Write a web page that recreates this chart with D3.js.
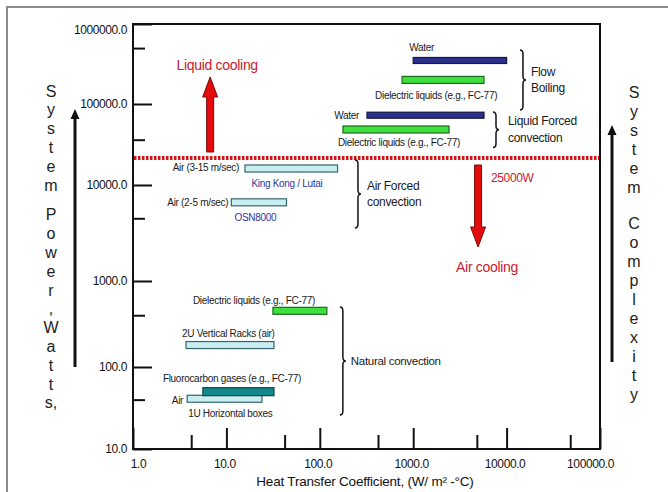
<!DOCTYPE html>
<html>
<head>
<meta charset="utf-8">
<script src="https://cdn.jsdelivr.net/npm/d3@7"></script>
<style>
  body { margin: 0; background: #fff; }
  svg { display: block; font-family: "Liberation Sans", Arial, sans-serif; }
</style>
</head>
<body>
<svg id="chart"></svg>
<script>
"use strict";

// axis ticks
const xTicks = [1, 10, 100, 1000, 10000, 100000];
const xMinorTicks = [4.2, 42, 420, 4800, 48000];
const yTicks = [10, 100, 1000, 10000, 100000, 1000000];
const yMinorTicks = [40, 400, 4500, 40000, 500000];

// bars: heat transfer coefficient range (W/m2-C) against system power (W)
const barLabels = [
    "Water", "Dielectric liquids (e.g., FC-77)",
    "Water", "Dielectric liquids (e.g., FC-77)",
    "Air (3-15 m/sec)", "Air (2-5 m/sec)",
    "Dielectric liquids (e.g., FC-77)", "2U Vertical Racks (air)",
    "Fluorocarbon gases (e.g., FC-77)", "Air"
];
const barNotes = ["", "", "", "", "King Kong / Lutai", "OSN8000", "", "", "", "1U Horizontal boxes"];
const barFrom = [1000, 760, 320, 177, 15.8, 11.3, 31.5, 3.7, 5.6, 3.8];
const barTo = [10000, 5730, 5730, 2420, 155, 44, 119, 32.3, 32.3, 24];
const barPower = [350000, 200000, 75000, 52000, 17500, 6600, 450, 180, 50, 41];
const barMedium = ["water", "dielectric", "water", "dielectric", "air", "air",
                   "dielectric", "air", "fluorocarbon", "air"];

// regime braces
const groupNames = [["Flow", "Boiling"], ["Liquid Forced", "convection"], ["Air Forced", "convection"], ["Natural convection"]];
const groupTop = [473000, 81500, 23400, 500];
const groupBottom = [85700, 32800, 3560, 26];
const groupAt = [13900, 7150, 238, 164];

const thresholdPower = 25000;
const thresholdLabel = "25000W";
const upArrowAt = 6.7;
const downArrowAt = 4950;

// ---- layout / style ----
const width = 668, height = 492;
const plotLeft = 133, plotRight = 600, plotTop = 24, plotBottom = 449;

const mediumStyle = {
    water:        { fill: "#2c3190", stroke: "#141640", h: 6 },
    dielectric:   { fill: "#3ee03e", stroke: "#1d6a1d", h: 7 },
    air:          { fill: "#c9eef1", stroke: "#35656b", h: 7 },
    fluorocarbon: { fill: "#14898b", stroke: "#0b4748", h: 8 }
};

// label placement relative to the bar start / bar centre line
const labelLayout = [
    { anchor: "start", dx: -4,  dy: -12.5 },
    { anchor: "start", dx: -27, dy: 15.5 },
    { anchor: "end",   dx: -8,  dy: 0.5 },
    { anchor: "start", dx: -5,  dy: 13 },
    { anchor: "end",   dx: -6,  dy: -1 },
    { anchor: "end",   dx: -3,  dy: 0 },
    { anchor: "start", dx: -80, dy: -10 },
    { anchor: "start", dx: -4,  dy: -12 },
    { anchor: "start", dx: -40, dy: -13 },
    { anchor: "end",   dx: -4,  dy: 1.5 }
];
const noteLayout = [null, null, null, null,
    { anchor: "middle", dx: 42, dy: 15, color: "#34349a" },
    { anchor: "middle", dx: 24, dy: 15, color: "#34349a" },
    null, null, null,
    { anchor: "start", dx: 1, dy: 14.5, color: "#222" }];

const svg = d3.select("#chart").attr("width", width).attr("height", height);
svg.append("rect").attr("width", width).attr("height", height).attr("fill", "#fff");

// picture frame
svg.append("rect")
    .attr("x", 7).attr("y", 7).attr("width", width + 20).attr("height", height + 20)
    .attr("fill", "none").attr("stroke", "#8c8c8c").attr("stroke-width", 2);

const x = d3.scaleLog().domain([1, 100000]).range([plotLeft, plotRight]);
// the printed axis is not evenly spaced, so it is calibrated piecewise
const y = d3.scaleLog()
    .domain([10, 100, 1000, 10000, thresholdPower, 100000, 1000000])
    .range([449, 367, 281, 185, 158, 104, 24]);

const fmt = d3.format(".1f");

// x axis
const gx = svg.append("g").attr("transform", `translate(0,${plotBottom})`)
    .call(d3.axisBottom(x).tickValues(xTicks).tickSize(-21).tickSizeOuter(0).tickPadding(10).tickFormat(fmt));
gx.append("g")
    .call(d3.axisBottom(x).tickValues(xMinorTicks).tickSize(-14).tickSizeOuter(0).tickFormat(""));
gx.selectAll(".domain").remove();
gx.selectAll("line").attr("stroke", "#111").attr("stroke-width", 2);
gx.selectAll("text").attr("font-size", 12).attr("fill", "#111").attr("letter-spacing", -0.4)
    .attr("font-family", "Liberation Sans, Arial, sans-serif")
    .attr("dx", d => d === 1 ? 5 : (d === 100000 ? -10 : -2));

// y axis
const gy = svg.append("g").attr("transform", `translate(${plotLeft},0)`)
    .call(d3.axisLeft(y).tickValues(yTicks).tickSize(-19).tickSizeOuter(0).tickPadding(6).tickFormat(fmt));
gy.append("g")
    .call(d3.axisLeft(y).tickValues(yMinorTicks).tickSize(-12).tickSizeOuter(0).tickFormat(""));
gy.selectAll(".domain").remove();
gy.selectAll("line").attr("stroke", "#111").attr("stroke-width", 2);
gy.selectAll("text").attr("font-size", 12).attr("fill", "#111").attr("letter-spacing", -0.4)
    .attr("font-family", "Liberation Sans, Arial, sans-serif")
    .attr("dy", d => d === 1000000 ? "0.75em" : "0.32em");

// plot frame
svg.append("rect")
    .attr("x", plotLeft).attr("y", plotTop).attr("width", plotRight - plotLeft).attr("height", plotBottom - plotTop)
    .attr("fill", "none").attr("stroke", "#111").attr("stroke-width", 2);

// x title
svg.append("text")
    .attr("x", 365).attr("y", 486)
    .attr("text-anchor", "middle").attr("font-size", 13.5).attr("fill", "#111")
    .attr("letter-spacing", -0.2)
    .text("Heat Transfer Coefficient, (W/ m² -°C)");

// threshold line
const ty = y(thresholdPower);
svg.append("line")
    .attr("x1", plotLeft + 1).attr("x2", plotRight - 1).attr("y1", ty).attr("y2", ty)
    .attr("stroke", "#d41414").attr("stroke-width", 4).attr("stroke-dasharray", "2.5 1.5");

// bars
const bars = d3.range(barLabels.length);
const barG = svg.append("g");
const barRects = barG.selectAll("rect").data(bars).join("rect")
    .attr("x", i => x(barFrom[i]))
    .attr("width", i => x(barTo[i]) - x(barFrom[i]))
    .attr("y", i => y(barPower[i]) - mediumStyle[barMedium[i]].h / 2)
    .attr("height", i => mediumStyle[barMedium[i]].h)
    .attr("fill", i => mediumStyle[barMedium[i]].fill)
    .attr("stroke", i => mediumStyle[barMedium[i]].stroke)
    .attr("stroke-width", 1.2);
// the teal bar sits over the 1U air bar
barRects.filter(i => barMedium[i] === "fluorocarbon").raise();

barG.selectAll("text.lbl").data(bars).join("text")
    .attr("class", "lbl")
    .attr("x", i => x(barFrom[i]) + labelLayout[i].dx)
    .attr("y", i => y(barPower[i]) + labelLayout[i].dy)
    .attr("text-anchor", i => labelLayout[i].anchor)
    .attr("dominant-baseline", "central")
    .attr("font-size", 10).attr("letter-spacing", -0.3).attr("fill", "#1a1a1a")
    .text(i => barLabels[i]);

const noted = bars.filter(i => barNotes[i]);
barG.selectAll("text.note").data(noted).join("text")
    .attr("class", "note")
    .attr("x", i => x(barFrom[i]) + noteLayout[i].dx)
    .attr("y", i => y(barPower[i]) + noteLayout[i].dy)
    .attr("text-anchor", i => noteLayout[i].anchor)
    .attr("dominant-baseline", "central")
    .attr("font-size", 10).attr("letter-spacing", -0.3)
    .attr("fill", i => noteLayout[i].color)
    .text(i => barNotes[i]);

// braces
function bracePath(bx, y0, y1) {
    const w = 6, r = 4, ym = (y0 + y1) / 2, cx = bx + w / 2;
    return `M${bx},${y0} Q${cx},${y0} ${cx},${y0 + r} L${cx},${ym - r} Q${cx},${ym} ${bx + w},${ym}` +
           ` Q${cx},${ym} ${cx},${ym + r} L${cx},${y1 - r} Q${cx},${y1} ${bx},${y1}`;
}
const braceText = [{ dx: 11, lh: 16 }, { dx: 15, lh: 17 }, { dx: 12, lh: 16 }, { dx: 11, lh: 16 }];
groupNames.forEach((lines, i) => {
    const bx = x(groupAt[i]);
    const y0 = y(groupTop[i]), y1 = y(groupBottom[i]);
    svg.append("path").attr("d", bracePath(bx, y0, y1))
        .attr("fill", "none").attr("stroke", "#111").attr("stroke-width", 1.5);
    const t = svg.append("text")
        .attr("x", bx + braceText[i].dx)
        .attr("y", (y0 + y1) / 2 - (lines.length - 1) * braceText[i].lh / 2)
        .attr("dominant-baseline", "central")
        .attr("font-size", i === 3 ? 11.5 : 12).attr("letter-spacing", -0.3).attr("fill", "#1a1a1a");
    lines.forEach((s, k) => {
        t.append("tspan").attr("x", bx + braceText[i].dx).attr("dy", k === 0 ? 0 : braceText[i].lh).text(s);
    });
});

// red arrows
function blockArrow(ax, yFrom, yTo) {
    const dir = yTo < yFrom ? -1 : 1;
    const sw = 3.5, hw = 7.5, hl = 20;
    const base = yTo - dir * hl;
    return `M${ax - sw},${yFrom} L${ax - sw},${base} L${ax - hw},${base} L${ax},${yTo}` +
           ` L${ax + hw},${base} L${ax + sw},${base} L${ax + sw},${yFrom} Z`;
}
svg.append("path").attr("d", blockArrow(x(upArrowAt), ty - 6, ty - 81))
    .attr("fill", "#e30b0b").attr("stroke", "#7a0c0c").attr("stroke-width", 1);
svg.append("path").attr("d", blockArrow(x(downArrowAt), ty + 7, ty + 89))
    .attr("fill", "#e30b0b").attr("stroke", "#7a0c0c").attr("stroke-width", 1);

svg.append("text").attr("x", x(upArrowAt) + 7).attr("y", ty - 93)
    .attr("text-anchor", "middle").attr("dominant-baseline", "central")
    .attr("font-size", 14).attr("letter-spacing", -0.3).attr("fill", "#c8202e").text("Liquid cooling");
svg.append("text").attr("x", x(downArrowAt) + 9).attr("y", ty + 109)
    .attr("text-anchor", "middle").attr("dominant-baseline", "central")
    .attr("font-size", 14).attr("letter-spacing", -0.3).attr("fill", "#c8202e").text("Air cooling");
svg.append("text").attr("x", x(downArrowAt) + 13).attr("y", ty + 20)
    .attr("dominant-baseline", "central")
    .attr("font-size", 12).attr("letter-spacing", -0.4).attr("fill", "#c8202e").text(thresholdLabel);

// side titles, one letter per line
function stackedTitle(lines, cx, y0, pitch, spaceGap) {
    let yy = y0;
    lines.forEach(s => {
        if (s === " ") { yy += spaceGap; return; }
        svg.append("text").attr("x", cx).attr("y", yy)
            .attr("text-anchor", "middle").attr("dominant-baseline", "central")
            .attr("font-size", 16).attr("fill", "#222").text(s);
        yy += pitch;
    });
}
stackedTitle(["S","y","s","t","e","m"," ","P","o","w","e","r",",","W","a","t","t","s,"], 51, 91, 18.8, 11);
stackedTitle(["S","y","s","t","e","m"," ","C","o","m","p","l","e","x","i","t","y"], 634, 92, 19, 17);

// black side arrows
function sideArrow(ax, yTip, yEnd) {
    svg.append("line").attr("x1", ax).attr("x2", ax).attr("y1", yTip + 8).attr("y2", yEnd)
        .attr("stroke", "#111").attr("stroke-width", 3);
    svg.append("path").attr("d", `M${ax},${yTip} L${ax - 4.5},${yTip + 10} L${ax + 4.5},${yTip + 10} Z`)
        .attr("fill", "#111");
}
sideArrow(75, 109, 367);
sideArrow(612, 125, 362);
</script>
</body>
</html>
